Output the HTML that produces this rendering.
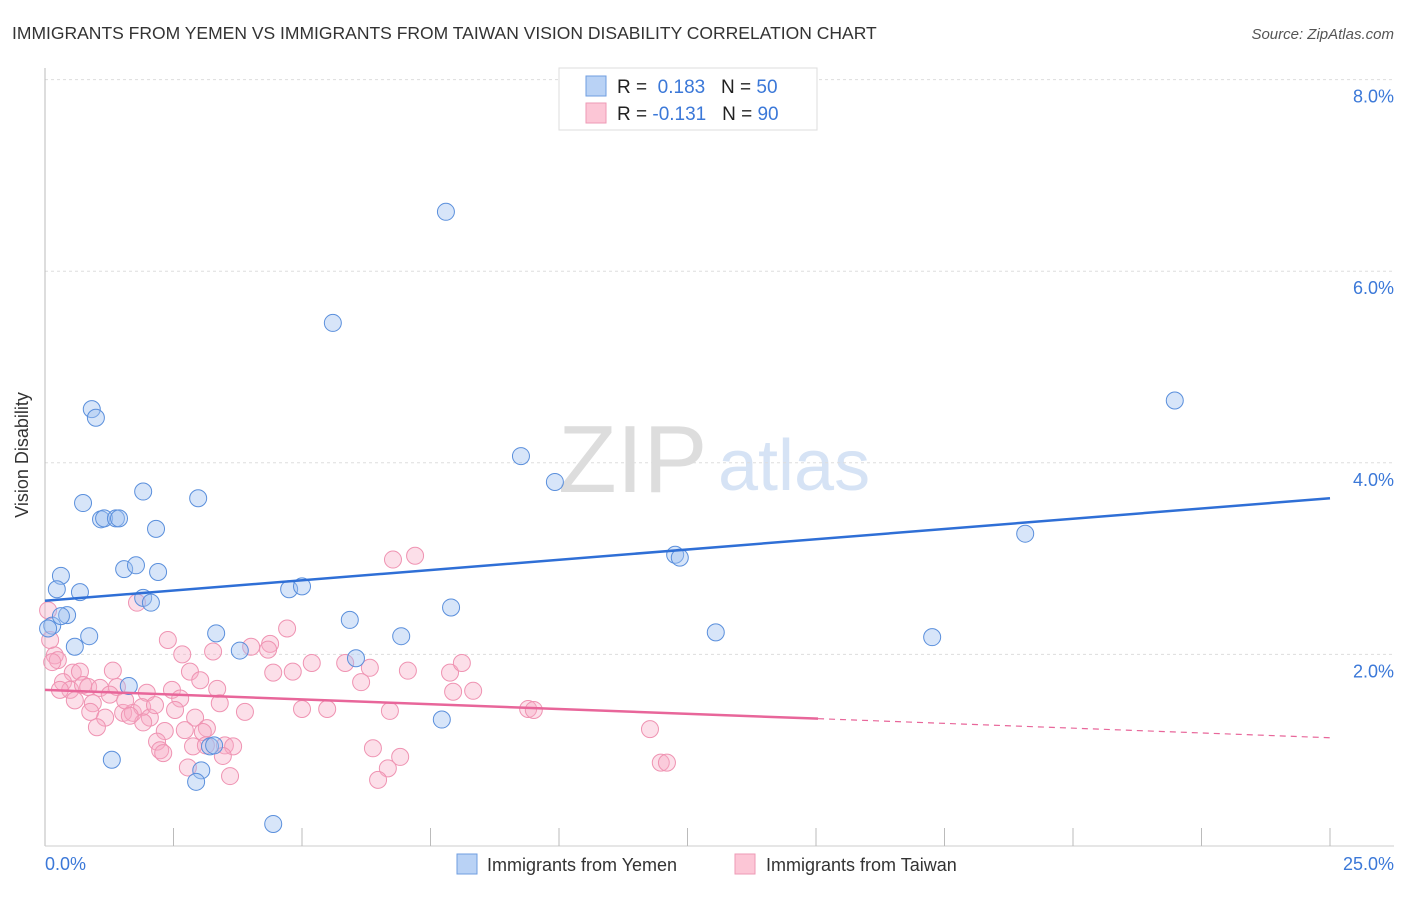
<!DOCTYPE html>
<html><head><meta charset="utf-8"><style>
body{margin:0;background:#fff;font-family:"Liberation Sans",sans-serif;}
svg text{font-family:"Liberation Sans",sans-serif;}
</style></head><body>
<svg id="c" width="1406" height="892">
<text x="12" y="39" font-size="17.5" fill="#333">IMMIGRANTS FROM YEMEN VS IMMIGRANTS FROM TAIWAN VISION DISABILITY CORRELATION CHART</text>
<text x="1394" y="39" font-size="15" fill="#555" font-style="italic" text-anchor="end">Source: ZipAtlas.com</text>
<g>
<text x="558" y="492" font-size="96" font-family="Liberation Serif" fill="#ddd">ZIP</text>
<text x="718" y="490" font-size="72" fill="#d6e3f5">atlas</text>
</g>
<g id="grid"></g>
<g id="axes"></g>
<g id="marks"></g>
<text x="28" y="455" font-size="18" fill="#333" text-anchor="middle" transform="rotate(-90 28 455)">Vision Disability</text>
<text x="45" y="870" font-size="18" fill="#3b78d8">0.0%</text>
<text x="1394" y="870" font-size="18" fill="#3b78d8" text-anchor="end">25.0%</text>
<g>
<rect x="559" y="68" width="258" height="62" fill="#fff" stroke="#ddd"/>
<rect x="586" y="76" width="20" height="20" fill="#b9d2f5" stroke="#6f9ee0"/>
<rect x="586" y="103" width="20" height="20" fill="#fcc6d6" stroke="#ee9ab5"/>
<text x="617" y="93" font-size="19" fill="#222">R = <tspan fill="#3b78d8">&#160;0.183</tspan>&#160;&#160;&#160;N = <tspan fill="#3b78d8">50</tspan></text>
<text x="617" y="120" font-size="19" fill="#222">R = <tspan fill="#3b78d8">-0.131</tspan>&#160;&#160;&#160;N = <tspan fill="#3b78d8">90</tspan></text>
</g>
<g>
<rect x="457" y="854" width="20" height="20" fill="#b9d2f5" stroke="#6f9ee0"/>
<text x="487" y="871" font-size="18" fill="#333">Immigrants from Yemen</text>
<rect x="735" y="854" width="20" height="20" fill="#fcc6d6" stroke="#ee9ab5"/>
<text x="766" y="871" font-size="18" fill="#333">Immigrants from Taiwan</text>
</g>
</svg>
<script>
const yTicks=[2,4,6,8];
const yTickLabels=["2.0%","4.0%","6.0%","8.0%"];
const xTicks=[2.5,5,7.5,10,12.5,15,17.5,20,22.5,25];
const yemenX=[7.80,5.60,0.91,0.99,21.98,9.26,9.92,0.74,1.91,2.98,1.09,1.15,1.38,1.44,2.16,19.07,12.26,12.35,1.54,1.77,2.20,0.31,0.23,0.68,4.75,5.00,1.91,2.06,7.90,5.93,0.43,0.14,0.06,0.86,3.33,13.05,17.26,6.93,0.58,3.79,6.05,1.63,7.72,1.30,3.21,3.29,3.04,2.94,4.44,0.31];
const yemenY=[6.62,5.46,4.56,4.47,4.65,4.07,3.80,3.58,3.70,3.63,3.41,3.42,3.42,3.42,3.31,3.26,3.04,3.01,2.89,2.93,2.86,2.82,2.68,2.65,2.68,2.71,2.59,2.54,2.49,2.36,2.41,2.30,2.27,2.19,2.22,2.23,2.18,2.19,2.08,2.04,1.96,1.67,1.32,0.90,1.04,1.05,0.79,0.67,0.23,2.40];
const taiwanX=[6.77,7.20,1.79,4.71,2.39,2.67,3.27,4.01,4.38,4.34,0.19,0.25,0.14,1.32,0.54,0.68,2.82,3.02,4.44,4.82,5.19,5.84,6.32,6.15,7.06,7.88,8.11,7.94,8.33,0.35,0.49,0.74,0.84,1.07,1.40,1.98,2.47,2.63,3.35,3.40,3.89,5.00,5.49,6.71,0.93,0.88,1.17,1.52,1.71,1.89,2.04,1.91,2.53,2.92,1.01,2.33,3.15,3.07,2.18,2.24,2.30,2.88,3.50,3.66,3.46,2.78,3.60,6.38,6.91,6.67,6.48,9.40,9.51,11.77,11.98,12.10,0.06,0.10,0.29,0.58,1.26,1.56,2.14,1.65,2.72,3.13];
const taiwanY=[2.99,3.03,2.54,2.27,2.15,2.00,2.03,2.08,2.11,2.05,1.99,1.94,1.92,1.83,1.81,1.82,1.82,1.73,1.81,1.82,1.91,1.91,1.86,1.71,1.83,1.81,1.91,1.61,1.62,1.71,1.63,1.68,1.66,1.65,1.66,1.60,1.63,1.54,1.64,1.49,1.40,1.43,1.43,1.41,1.49,1.40,1.34,1.39,1.39,1.45,1.34,1.29,1.42,1.34,1.24,1.20,1.23,1.19,1.09,1.00,0.97,1.04,1.05,1.04,0.94,0.82,0.73,1.02,0.93,0.81,0.69,1.43,1.42,1.22,0.87,0.87,2.46,2.15,1.63,1.52,1.58,1.52,1.47,1.36,1.21,1.05];
const yemenTrend=[2.56,3.63];
const taiwanTrend=[1.63,1.13];
const taiwanSolidEnd=15.04;

const NS="http://www.w3.org/2000/svg";
const sx=v=>45+v*(1285/25);
const sy=v=>846-v*95.8;
function mk(tag,attrs,parent){const e=document.createElementNS(NS,tag);for(const k in attrs)e.setAttribute(k,attrs[k]);parent.appendChild(e);return e;}
const grid=document.getElementById('grid'),axes=document.getElementById('axes'),marks=document.getElementById('marks');
yTicks.forEach((t,i)=>{
 const l=mk('line',{x1:45,x2:1394,y1:sy(t),y2:sy(t),stroke:'#ddd','stroke-dasharray':'3,3'},grid);
 
 
 const tx=mk('text',{x:1394,y:sy(t)+23,'font-size':18,fill:'#3b78d8','text-anchor':'end'},grid);
 tx.textContent=yTickLabels[i];
 
 
});
const ax=mk('line',{x1:45,x2:45,y1:68,y2:846,stroke:'#bbb'},axes);


const bx=mk('line',{x1:45,x2:1394,y1:846,y2:846,stroke:'#ccc'},axes);


xTicks.forEach(t=>{
 const l=mk('line',{x1:sx(t),x2:sx(t),y1:828,y2:846,stroke:'#bbb'},axes);
 
 
});
taiwanX.forEach((x,i)=>{
 const c=mk('circle',{cx:sx(x),cy:sy(taiwanY[i]),r:8.5,fill:'rgba(246,172,197,0.38)',stroke:'#ef93b2','stroke-width':1},marks);
 
 
});
yemenX.forEach((x,i)=>{
 const c=mk('circle',{cx:sx(x),cy:sy(yemenY[i]),r:8.5,fill:'rgba(160,194,240,0.42)',stroke:'#5a8fdc','stroke-width':1},marks);
 
 
});
const yl=mk('line',{x1:sx(0),y1:sy(yemenTrend[0]),x2:sx(25),y2:sy(yemenTrend[1]),stroke:'#2f6fd6','stroke-width':2.5},marks);


const tm=taiwanTrend[0]+(taiwanTrend[1]-taiwanTrend[0])*taiwanSolidEnd/25;
const tl=mk('line',{x1:sx(0),y1:sy(taiwanTrend[0]),x2:sx(taiwanSolidEnd),y2:sy(tm),stroke:'#e8669a','stroke-width':2.5},marks);


const td=mk('line',{x1:sx(taiwanSolidEnd),y1:sy(tm),x2:sx(25),y2:sy(taiwanTrend[1]),stroke:'#e8669a','stroke-width':1.2,'stroke-dasharray':'6,5'},marks);


</script>
</body></html>
